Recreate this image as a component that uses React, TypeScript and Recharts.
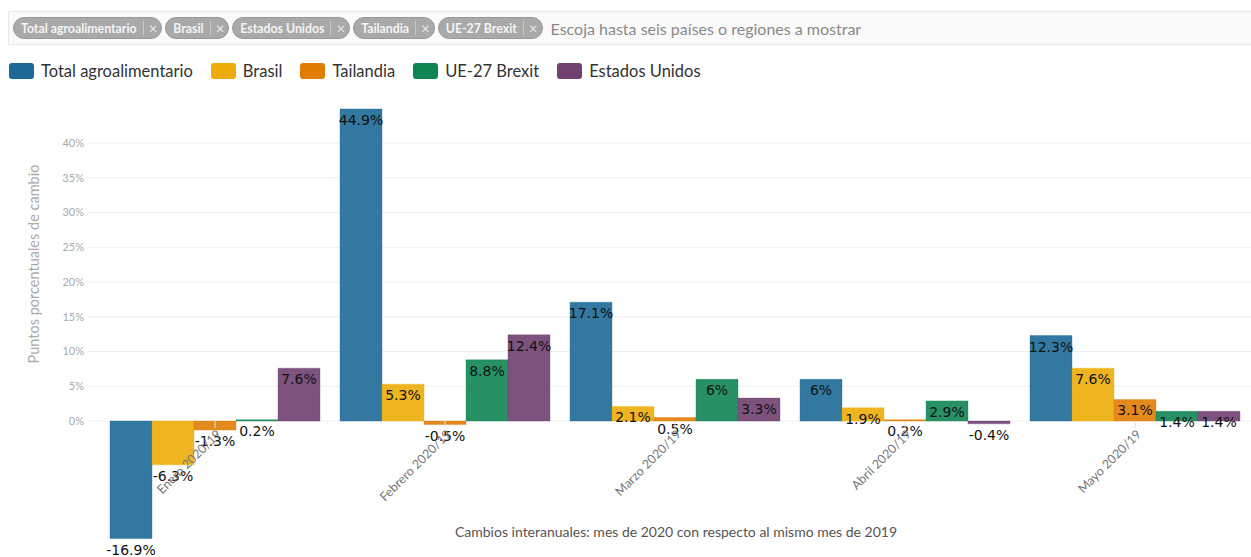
import { BarChart, Bar, XAxis, YAxis, CartesianGrid, LabelList } from "recharts";

// datos: variación interanual (%) por mes
const meses = ["Enero 2020/19", "Febrero 2020/19", "Marzo 2020/19", "Abril 2020/19", "Mayo 2020/19"];
const totalAgro = [-16.9, 44.9, 17.1, 6, 12.3];
const brasil = [-6.3, 5.3, 2.1, 1.9, 7.6];
const tailandia = [-1.3, -0.5, 0.5, 0.2, 3.1];
const ue27 = [0.2, 8.8, 6, 2.9, 1.4];
const eeuu = [7.6, 12.4, 3.3, -0.4, 1.4];
const yTicks = [0, 5, 10, 15, 20, 25, 30, 35, 40];
const chips = ["Total agroalimentario", "Brasil", "Estados Unidos", "Tailandia", "UE-27 Brexit"];

const series = [
  { key: "total", name: "Total agroalimentario", color: "#1d6996" },
  { key: "brasil", name: "Brasil", color: "#edad08" },
  { key: "tailandia", name: "Tailandia", color: "#e17c05" },
  { key: "ue", name: "UE-27 Brexit", color: "#0f8554" },
  { key: "eeuu", name: "Estados Unidos", color: "#6f4070" },
];

const data = meses.map((mes, i) => ({
  mes,
  total: totalAgro[i],
  brasil: brasil[i],
  tailandia: tailandia[i],
  ue: ue27[i],
  eeuu: eeuu[i],
}));

function geom(props: any) {
  const vb = props.viewBox ?? {};
  const x = Number(props.x ?? vb.x);
  const y = Number(props.y ?? vb.y);
  const w = Number(props.width ?? vb.width);
  const h = Number(props.height ?? vb.height);
  return { x, w, top: Math.min(y, y + h), bottom: Math.max(y, y + h) };
}

function ValueLabel(props: any) {
  const { x, w, top, bottom } = geom(props);
  const v = Number(props.value);
  const ly = v >= 0 ? top : bottom;
  return (
    <text x={x + w / 2} y={ly + 16} textAnchor="middle" fontFamily="DejaVu Sans" fontSize={14} fill="#111">
      {props.value}%
    </text>
  );
}

// etiqueta de mes, anclada en la barra central (Tailandia) sobre la línea de cero
function MonthLabel(props: any) {
  const { x, w, top, bottom } = geom(props);
  const v = tailandia[props.index];
  const zero = v >= 0 ? bottom : top;
  const cx = x + w / 2;
  return (
    <g>
      <line x1={cx} y1={zero} x2={cx} y2={zero + 7} stroke="#ddd" />
      <text
        x={cx + 7}
        y={zero + 14}
        textAnchor="end"
        transform={`rotate(-45 ${cx + 7} ${zero + 14})`}
        fontFamily="Lato"
        fontSize={12.5}
        fill="#777"
      >
        {props.value}
      </text>
    </g>
  );
}

function Chip({ label }: { label: string }) {
  return (
    <div
      style={{
        display: "flex",
        alignItems: "center",
        height: 20,
        marginRight: 3,
        padding: "0 4px 0 7px",
        background: "#a9a9a9",
        border: "1px solid #999",
        borderRadius: 11,
        color: "#f4f4f4",
        fontSize: 12.3,
        fontWeight: 700,
        whiteSpace: "nowrap",
      }}
    >
      <span>{label}</span>
      <span style={{ width: 1, height: 14, background: "#c8c8c8", margin: "0 5px 0 6px" }} />
      <span style={{ fontWeight: 400, fontSize: 15, color: "#e8e8e8", lineHeight: "15px" }}>×</span>
    </div>
  );
}

export default function App() {
  return (
    <div style={{ position: "relative", width: 1251, height: 557, fontFamily: "Lato", overflow: "hidden" }}>
      <style>{`body{margin:0;overflow:hidden}`}</style>

      <div
        style={{
          position: "absolute",
          left: 8,
          top: 11,
          width: 1250,
          height: 34,
          background: "#fafafa",
          border: "1px solid #e6e6e6",
          borderRadius: 2,
          display: "flex",
          alignItems: "center",
          paddingLeft: 4,
          boxSizing: "border-box",
        }}
      >
        {chips.map((c) => (
          <Chip key={c} label={c} />
        ))}
        <span style={{ marginLeft: 5, fontSize: 16, color: "#8a8a8a", whiteSpace: "nowrap" }}>
          Escoja hasta seis países o regiones a mostrar
        </span>
      </div>

      <div style={{ position: "absolute", left: 9, top: 61, display: "flex", alignItems: "center" }}>
        {series.map((s) => (
          <div key={s.key} style={{ display: "flex", alignItems: "center", marginRight: 18 }}>
            <span style={{ width: 25, height: 16, borderRadius: 3, background: s.color, marginRight: 7 }} />
            <span style={{ fontSize: 16.5, color: "#333", whiteSpace: "nowrap" }}>{s.name}</span>
          </div>
        ))}
      </div>

      <div
        style={{
          position: "absolute",
          left: 33,
          top: 264,
          transform: "translate(-50%, -50%) rotate(-90deg)",
          whiteSpace: "nowrap",
          fontSize: 14.5,
          color: "#aaa",
        }}
      >
        Puntos porcentuales de cambio
      </div>

      <div style={{ position: "absolute", left: 0, top: 0 }}>
        <BarChart
          width={1251}
          height={557}
          data={data}
          margin={{ top: 108.25, right: 0, bottom: 17.8, left: 28 }}
          barCategoryGap={11}
          barGap={0}
        >
          <CartesianGrid vertical={false} stroke="#eeeeee" horizontalValues={yTicks} />
          <XAxis dataKey="mes" hide padding={{ left: 11, right: 2 }} />
          <YAxis
            width={60}
            domain={[-17, 45]}
            ticks={yTicks}
            tickFormatter={(v: number) => `${v}%`}
            axisLine={false}
            tickLine={false}
            tickSize={0}
            tickMargin={4}
            tick={{ fontSize: 11, fill: "#aaa", fontFamily: "Lato" }}
          />
          {series.map((s) => (
            <Bar
              key={s.key}
              dataKey={s.key}
              name={s.name}
              fill={s.color}
              fillOpacity={0.9}
              stroke={s.color}
              strokeOpacity={0.35}
              isAnimationActive={false}
            >
              <LabelList dataKey={s.key} content={ValueLabel} />
              {s.key === "tailandia" && <LabelList dataKey="mes" content={MonthLabel} />}
            </Bar>
          ))}
        </BarChart>
      </div>

      <div
        style={{
          position: "absolute",
          left: 676,
          top: 531,
          transform: "translate(-50%, -50%)",
          whiteSpace: "nowrap",
          fontSize: 14,
          color: "#555",
        }}
      >
        Cambios interanuales: mes de 2020 con respecto al mismo mes de 2019
      </div>
    </div>
  );
}
